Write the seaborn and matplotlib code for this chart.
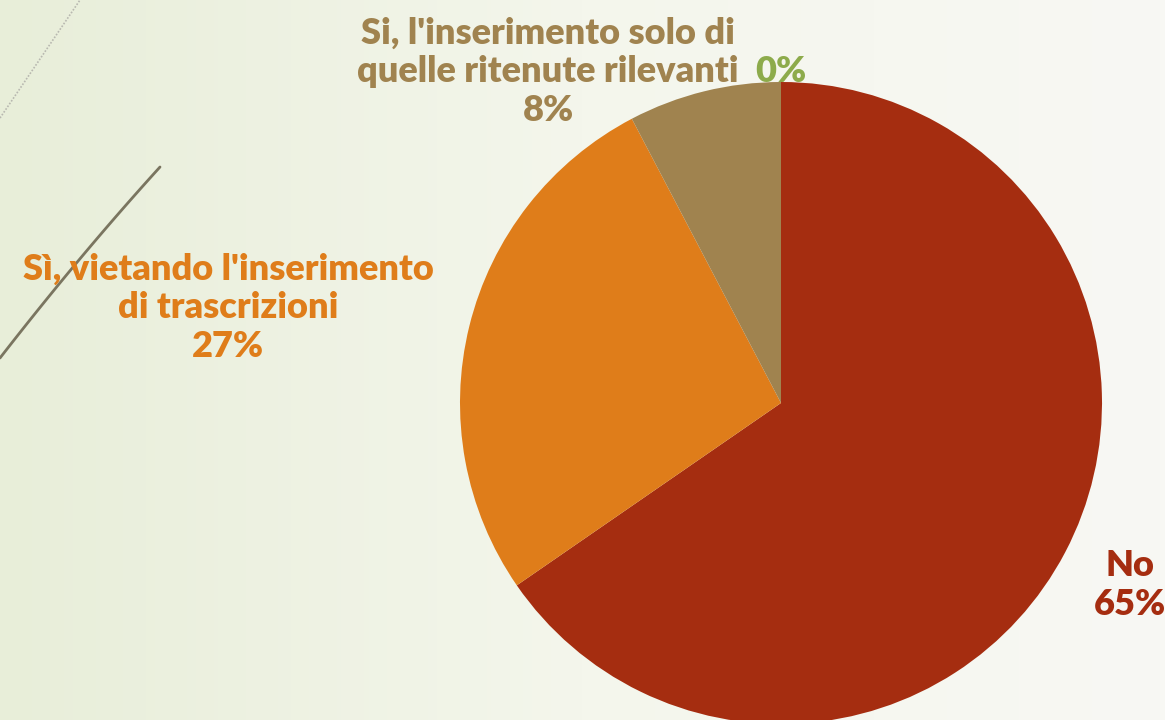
import matplotlib
matplotlib.use("Agg")
import matplotlib.pyplot as plt
import seaborn as sns
import numpy as np

# risposte (conteggi) -> 65%, 27%, 8%, 0%
categorie = ["No", "Sì, vietando l'inserimento\ndi trascrizioni",
             "Si, l'inserimento solo di\nquelle ritenute rilevanti", ""]
conteggi = [17, 7, 2, 0]
colori = ["#a52d10", "#df7d1a", "#a0834f", "#8dab4b"]

sns.set_theme(style="white")
plt.rcParams['font.family'] = ['Lato', 'DejaVu Sans']

fig = plt.figure(figsize=(11.65, 7.2), dpi=100)

# sfondo sfumato verde chiaro -> bianco
bg = fig.add_axes([0, 0, 1, 1])
grad = np.linspace(0, 1, 256)[None, :]
cmap = matplotlib.colors.LinearSegmentedColormap.from_list("bg", ["#e8eed9", "#f4f6ec", "#f8f8f4"])
bg.imshow(grad, aspect="auto", cmap=cmap, extent=[0, 1, 0, 1])
bg.set_axis_off()

ax = fig.add_axes([0, 0, 1, 1])
ax.patch.set_alpha(0)

# linee decorative
ax.plot([0, 80], [720 - 118, 720], color="#b8b8b0", lw=1.2, ls=(0, (1, 1)))
t = np.linspace(0, 1, 50)
ax.plot(160 - 160 * t, 720 - (167 + 191 * t - 15 * t * (1 - t)), color="#7a7560", lw=2)

totale = sum(conteggi)
ax.pie(conteggi, colors=sns.color_palette(colori), startangle=90, counterclock=False,
       center=(781, 720 - 403), radius=321, frame=True,
       wedgeprops=dict(linewidth=0, edgecolor="none"))
ax.set_xlim(0, 1165)
ax.set_ylim(0, 720)
ax.set_aspect("equal")
ax.set_axis_off()

perc = [f"{round(100 * c / totale)}%" for c in conteggi]
pos = [(1130, 720 - 585), (228, 720 - 308), (548, 720 - 72)]
for i, (x, y) in enumerate(pos):
    ax.text(x, y, categorie[i] + "\n" + perc[i], color=colori[i], ha="center", va="center",
            fontsize=26, fontweight="heavy", linespacing=1.2)
ax.text(781, 720 - 72, perc[3], color=colori[3], ha="center", va="center",
        fontsize=26, fontweight="heavy")

fig.savefig("out.png", dpi=100)
